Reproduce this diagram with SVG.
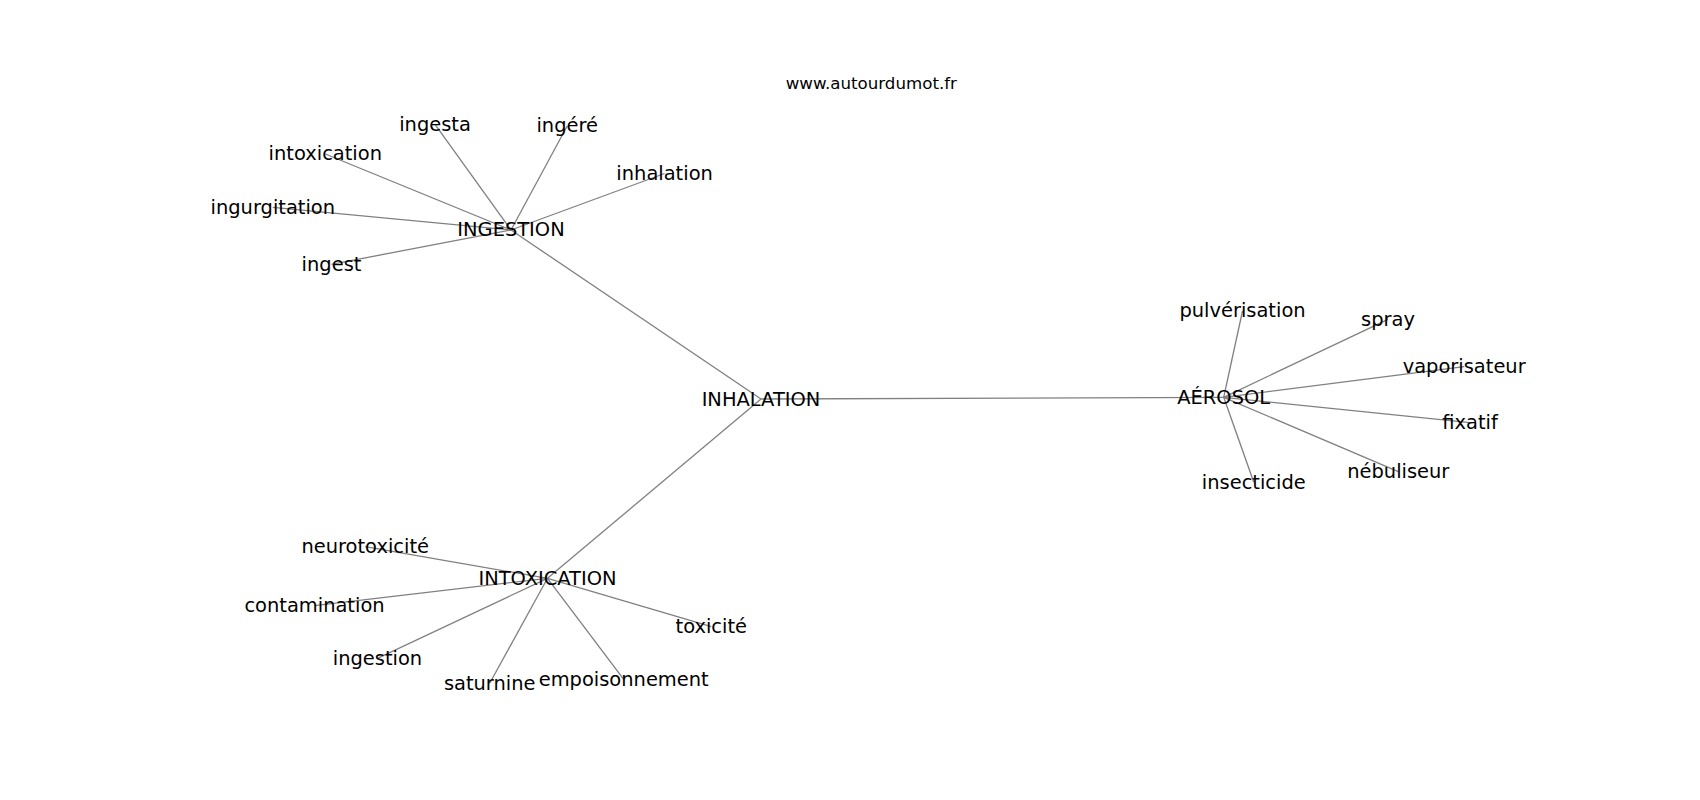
<svg xmlns="http://www.w3.org/2000/svg" width="1700" height="800" viewBox="0 0 1700 800">
<style>
.e{stroke:#808080;stroke-width:1.3;fill:none}
text{font-family:"DejaVu Sans","Liberation Sans",sans-serif;fill:#000;text-anchor:middle}
.n{font-size:19.44px}
.t{font-size:16.67px}
</style>
<rect width="1700" height="800" fill="#fff"/>
<text class="t" x="871.3" y="88.5">www.autourdumot.fr</text>
<g id="edges">
<line class="e" x1="761" y1="399" x2="511" y2="230"/>
<line class="e" x1="761" y1="399" x2="1223.7" y2="397.3"/>
<line class="e" x1="761" y1="399" x2="547.5" y2="578.3"/>
<line class="e" x1="511" y1="230" x2="435" y2="124.3"/>
<line class="e" x1="511" y1="230" x2="567.2" y2="126"/>
<line class="e" x1="511" y1="230" x2="325.3" y2="154"/>
<line class="e" x1="511" y1="230" x2="664.6" y2="173.5"/>
<line class="e" x1="511" y1="230" x2="272.8" y2="207.3"/>
<line class="e" x1="511" y1="230" x2="331.5" y2="264.3"/>
<line class="e" x1="1223.7" y1="397.3" x2="1242.5" y2="311"/>
<line class="e" x1="1223.7" y1="397.3" x2="1388" y2="319.3"/>
<line class="e" x1="1223.7" y1="397.3" x2="1464.2" y2="366.7"/>
<line class="e" x1="1223.7" y1="397.3" x2="1470" y2="422.7"/>
<line class="e" x1="1223.7" y1="397.3" x2="1398.3" y2="471.7"/>
<line class="e" x1="1223.7" y1="397.3" x2="1253.8" y2="482.3"/>
<line class="e" x1="547.5" y1="578.3" x2="365.2" y2="546.7"/>
<line class="e" x1="547.5" y1="578.3" x2="314.5" y2="605.7"/>
<line class="e" x1="547.5" y1="578.3" x2="711.3" y2="626.7"/>
<line class="e" x1="547.5" y1="578.3" x2="377.5" y2="658.3"/>
<line class="e" x1="547.5" y1="578.3" x2="489.7" y2="683.3"/>
<line class="e" x1="547.5" y1="578.3" x2="623.7" y2="679.3"/>
</g>
<g id="n-inhalation-hub"><text class="n" x="761" y="405.5">INHALATION</text></g>
<g id="n-ingestion-hub"><text class="n" x="511" y="236.2">INGESTION</text></g>
<g id="n-ingesta"><text class="n" x="435" y="130.5">ingesta</text></g>
<g id="n-ingere"><text class="n" x="567.2" y="132.2">ingéré</text></g>
<g id="n-intoxication"><text class="n" x="325.3" y="160.2">intoxication</text></g>
<g id="n-inhalation"><text class="n" x="664.6" y="179.7">inhalation</text></g>
<g id="n-ingurgitation"><text class="n" x="272.8" y="213.5">ingurgitation</text></g>
<g id="n-ingest"><text class="n" x="331.5" y="270.5">ingest</text></g>
<g id="n-aerosol"><text class="n" x="1223.7" y="403.5">AÉROSOL</text></g>
<g id="n-pulverisation"><text class="n" x="1242.5" y="317.2">pulvérisation</text></g>
<g id="n-spray"><text class="n" x="1388" y="325.5">spray</text></g>
<g id="n-vaporisateur"><text class="n" x="1464.2" y="372.9">vaporisateur</text></g>
<g id="n-fixatif"><text class="n" x="1470" y="428.9">fixatif</text></g>
<g id="n-nebuliseur"><text class="n" x="1398.3" y="477.9">nébuliseur</text></g>
<g id="n-insecticide"><text class="n" x="1253.8" y="488.5">insecticide</text></g>
<g id="n-intoxication-hub"><text class="n" x="547.5" y="584.5">INTOXICATION</text></g>
<g id="n-neurotoxicite"><text class="n" x="365.2" y="552.9">neurotoxicité</text></g>
<g id="n-contamination"><text class="n" x="314.5" y="611.9">contamination</text></g>
<g id="n-toxicite"><text class="n" x="711.3" y="632.9">toxicité</text></g>
<g id="n-ingestion"><text class="n" x="377.5" y="664.5">ingestion</text></g>
<g id="n-saturnine"><text class="n" x="489.7" y="689.5">saturnine</text></g>
<g id="n-empoisonnement"><text class="n" x="623.7" y="685.5">empoisonnement</text></g>
</svg>
